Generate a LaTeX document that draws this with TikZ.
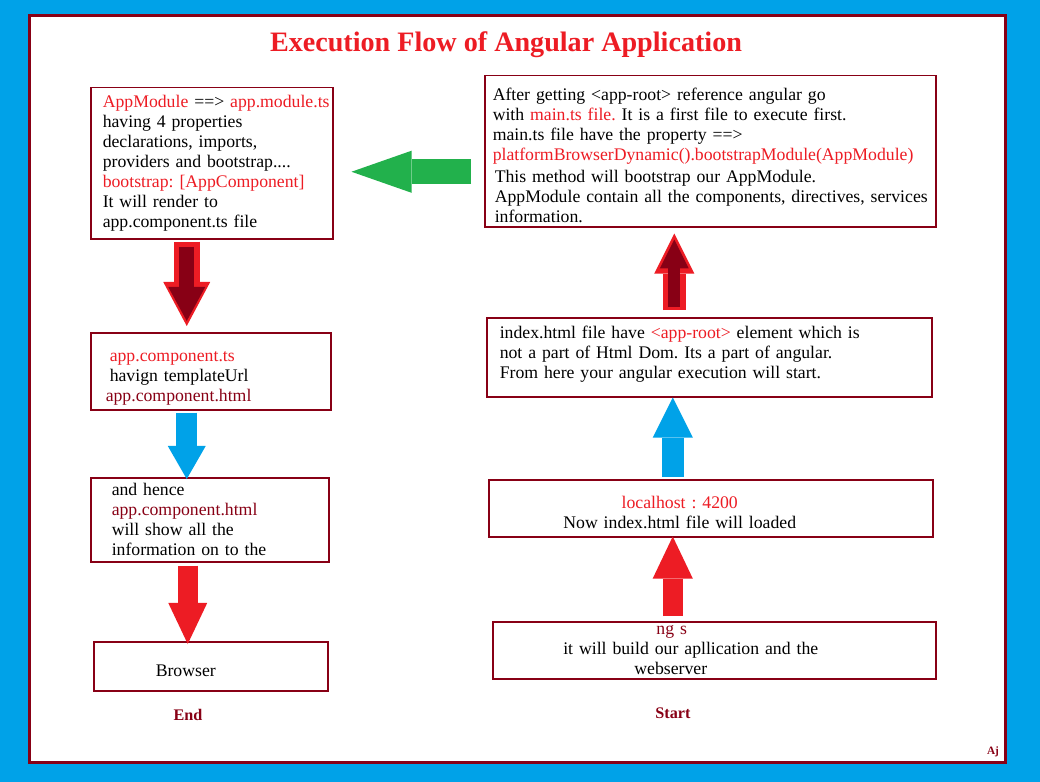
\documentclass[tikz,border=0pt]{standalone}
\usepackage{fontspec}
\setmainfont{Liberation Serif}
\usetikzlibrary{arrows.meta, calc}
\definecolor{angblue}{RGB}{0,162,232}
\definecolor{angred}{RGB}{237,28,36}
\definecolor{angmaroon}{RGB}{136,0,21}
\definecolor{anggreen}{RGB}{34,177,76}
\newlength\pxu
\setlength\pxu{0.025cm}
\newcommand{\rd}[1]{\textcolor{angred}{#1}}
\newcommand{\mr}[1]{\textcolor{angmaroon}{#1}}
\newcommand{\topgap}[1]{\rule{0pt}{\dimexpr0.7em+#1\relax}}
\frenchspacing

\begin{document}
\begin{tikzpicture}[x=0.025cm, y=-0.025cm,
        flowbox/.style={draw=angmaroon, line width=1.5\pxu, anchor=north west,
                        align=left, inner ysep=0pt,
                        font=\fontsize{12.6}{14.2}\selectfont},
        barrow/.style n args={4}{draw=#1, line width=#2\pxu,
                        -{Triangle[width=#3pt, length=#4pt, line width=0pt]}},
        tag/.style={text=angmaroon, font=\fontsize{11.5}{13}\selectfont\bfseries}]
      \useasboundingbox (0,0) rectangle (1040,782);
      \fill[angblue] (0,0) rectangle (1040,782);
      \draw[angmaroon, line width=3\pxu, fill=white] (29.5,16) rectangle (1005.5,762.5);
      \node[text=angred, font=\fontsize{20}{22}\selectfont\bfseries] (title) at (506,45)
           {Execution Flow of Angular Application};
      \node[flowbox, minimum width=242\pxu, minimum height=151\pxu,
            inner xsep=12\pxu, text width=218\pxu] (appmod) at (90,87)
           {\mbox{\rd{AppModule} ==> \rd{app.module.ts}}\\
            having 4 properties\\
            declarations, imports,\\
            providers and bootstrap....\\
            \rd{bootstrap: [AppComponent]}\\
            It will render to\\
            app.component.ts file};
      \node[flowbox, minimum width=451\pxu, minimum height=151\pxu,
            inner xsep=5.5\pxu, text width=440\pxu] (maints) at (484,75)
           {\topgap{8\pxu}\hspace*{2.5\pxu}After getting <app-root> reference angular go\\
            \hspace*{2.5\pxu}with \rd{main.ts file.} It is a first file to execute first.\\
            \hspace*{2.5\pxu}main.ts file have the property ==>\\
            \hspace*{2.5\pxu}\rd{platformBrowserDynamic().bootstrapModule(AppModule)}\\[2\pxu]
            \hspace*{4.5\pxu}This method will bootstrap our AppModule.\\
            \hspace*{4.5\pxu}AppModule contain all the components, directives, services\\
            \hspace*{4.5\pxu}information.};
      \node[flowbox, minimum width=240\pxu, minimum height=77\pxu,
            inner xsep=15\pxu, text width=210\pxu] (appcomp) at (90,332)
           {\topgap{12\pxu}\hspace*{4\pxu}\rd{app.component.ts}\\
            \hspace*{4\pxu}havign templateUrl\\
            \mr{app.component.html}};
      \node[flowbox, minimum width=238\pxu, minimum height=84\pxu,
            inner xsep=21\pxu, text width=196\pxu] (hence) at (90,477)
           {and hence\\
            \mr{app.component.html}\\
            will show all the\\
            information on to the};
      \node[flowbox, minimum width=234\pxu, minimum height=49\pxu,
            inner xsep=62\pxu, text width=110\pxu] (browser) at (93,641)
           {\topgap{8\pxu}Browser};
      \node[flowbox, minimum width=445\pxu, minimum height=79\pxu,
            inner xsep=13\pxu, text width=419\pxu] (index) at (486,317)
           {index.html file have \rd{<app-root>} element which is\\
            not a part of Html Dom. Its a part of angular.\\
            From here your angular execution will start.\\[-10\pxu]\mbox{}};
      \node[flowbox, minimum width=444\pxu, minimum height=57\pxu,
            inner xsep=8\pxu, text width=428\pxu] (localhost) at (488,479)
           {\topgap{8\pxu}\makebox[366\pxu][c]{\rd{localhost : 4200}}\\
            \makebox[366\pxu][c]{Now index.html file will loaded}};
      \node[flowbox, minimum width=443\pxu, minimum height=57\pxu,
            inner xsep=8\pxu, text width=427\pxu] (ngs) at (492,621)
           {\makebox[342\pxu][c]{\mr{ng s}}\\
            \makebox[380\pxu][c]{it will build our apllication and the}\\
            \makebox[340\pxu][c]{webserver}};
      \node[tag] (endtag) at (188,715) {End};
      \node[tag] (starttag) at (673,713) {Start};
      \node[text=angmaroon, font=\fontsize{8}{9}\selectfont\bfseries] (sign) at (993,752) {Aj};
      \draw[barrow={anggreen}{25}{29.9}{42.7}] ($(maints.west)+(-13,20.5)$) -- ($(appmod.east)+(18,8.5)$);
      \draw[barrow={angred}{26}{33.4}{31.3}] ($(appmod.south)+(-25,2)$) -- ($(appcomp.north)+(-24,-6)$);
      \draw[barrow={angmaroon}{15}{26.3}{24.2}] ($(appmod.south)+(-25,7)$) -- ($(appcomp.north)+(-24,-11)$);
      \draw[barrow={angblue}{21}{27.0}{23.5}] ($(appcomp.south)+(-24,2)$) -- ($(hence.north)+(-23,2)$);
      \draw[barrow={angred}{20}{27.7}{29.2}] ($(hence.south)+(-22,3)$) -- ($(browser.north)+(-23,3)$);
      \draw[barrow={angred}{20}{28.5}{29.9}] ($(ngs.north)+(-41.5,-5)$) -- ($(localhost.south)+(-38,-1)$);
      \draw[barrow={angblue}{22}{28.5}{28.5}] ($(localhost.north)+(-38,-2)$) -- ($(index.south)+(-36.5,0)$);
      \draw[barrow={angred}{23}{28.5}{28.5}] ($(index.north)+(-35,-7)$) -- ($(maints.south)+(-36,6)$);
      \draw[barrow={angmaroon}{12}{20.6}{20.6}] ($(index.north)+(-35,-10)$) -- ($(maints.south)+(-36,12)$);
    \end{tikzpicture}
\end{document}
